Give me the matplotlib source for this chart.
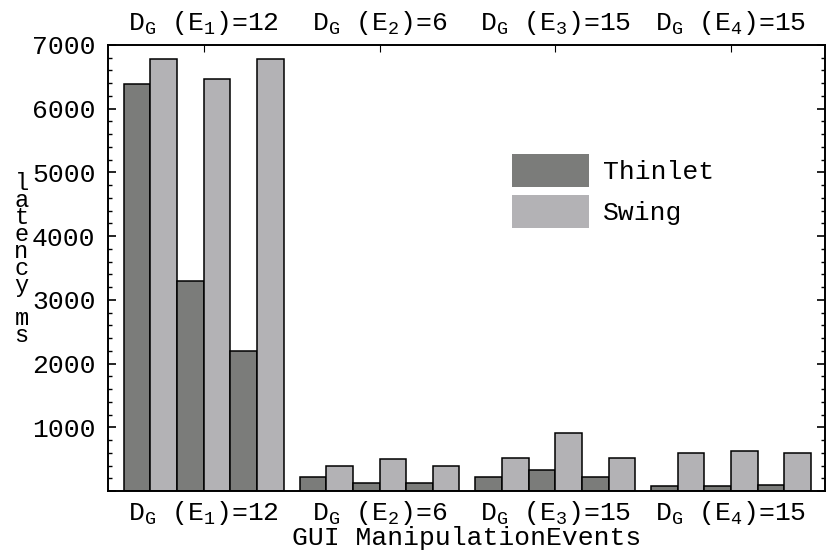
import matplotlib.pyplot as plt
from matplotlib.patches import Patch
from matplotlib.ticker import MultipleLocator
import numpy as np

plt.rcParams['font.family'] = ['Liberation Mono', 'DejaVu Sans']
plt.rcParams['mathtext.fontset'] = 'custom'
plt.rcParams['mathtext.rm'] = 'Liberation Mono'
plt.rcParams['mathtext.it'] = 'Liberation Mono'

# event groups and latency (ms), 3 runs per group
groups = [r'D$_\mathrm{G}$ (E$_1$)=12', r'D$_\mathrm{G}$ (E$_2$)=6',
          r'D$_\mathrm{G}$ (E$_3$)=15', r'D$_\mathrm{G}$ (E$_4$)=15']
thinlet = [6390, 3290, 2190, 220, 120, 120, 220, 335, 220, 80, 80, 100]
swing = [6780, 6460, 6780, 390, 500, 390, 520, 910, 520, 590, 620, 590]

dark = '#7b7c7a'
light = '#b3b2b5'
fs = 19

fig = plt.figure(figsize=(8.26, 5.53), dpi=100)
ax = fig.add_axes([108/826, 1-491/553, (825-108)/826, (491-45)/553])

w = 0.1517
n_runs = 3
for g in range(len(groups)):
    for r in range(n_runs):
        i = g*n_runs + r
        xt = g + (2*r - 2.5)*w
        xs = g + (2*r + 1 - 2.5)*w
        ax.bar(xt, thinlet[i], width=w, color=dark, edgecolor='black', linewidth=1.1)
        ax.bar(xs, swing[i], width=w, color=light, edgecolor='black', linewidth=1.1)

ax.set_xlim(-0.545, 3.535)
ax.set_ylim(0, 7000)
ax.yaxis.set_major_locator(MultipleLocator(1000))
ax.yaxis.set_minor_locator(MultipleLocator(200))
ax.set_yticks(range(0, 7001, 1000))
ax.set_yticklabels([''] + [str(v) for v in range(1000, 7001, 1000)])
ax.set_xticks(range(len(groups)))
ax.set_xticklabels(groups)
ax.tick_params(axis='y', which='both', direction='in', left=True, right=True,
               labelsize=fs, pad=9)
ax.tick_params(axis='y', which='major', length=6, width=1.2)
ax.tick_params(axis='y', which='minor', length=3, width=1)
ax.tick_params(axis='x', which='both', direction='in', bottom=False, top=True,
               labelbottom=True, labeltop=True, labelsize=fs, length=5, pad=6)
for s in ax.spines.values():
    s.set_linewidth(1.4)

ax.set_xlabel('GUI ManipulationEvents', fontsize=fs, labelpad=-1)
fig.text(0.026, 0.53, '\n'.join('latency ms'), fontsize=17, ha='center',
         va='center', linespacing=0.66)

handles = [Patch(facecolor=dark, edgecolor='none'),
           Patch(facecolor=light, edgecolor='none')]
ax.legend(handles, ['Thinlet', 'Swing'], loc='upper left',
          bbox_to_anchor=(0.5635, 0.755), frameon=False, fontsize=fs,
          handlelength=2.9, handleheight=1.55, labelspacing=0.3,
          handletextpad=0.55, borderpad=0, borderaxespad=0)

fig.savefig('out.png', dpi=100)
